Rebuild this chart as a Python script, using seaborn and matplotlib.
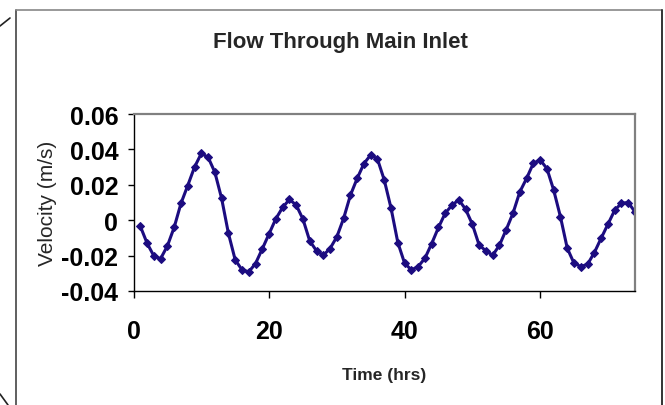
"""
Flow Through Main Inlet: velocity vs time, Excel-style line chart.
"""

import matplotlib
matplotlib.use('Agg')
import matplotlib.pyplot as plt
from matplotlib.lines import Line2D
import seaborn as sns
import pandas as pd

hours = [1, 2, 3, 4, 5, 6, 7, 8, 9, 10, 11, 12, 13, 14, 15, 16, 17, 18, 19, 20,
         21, 22, 23, 24, 25, 26, 27, 28, 29, 30, 31, 32, 33, 34, 35, 36, 37, 38,
         39, 40, 41, 42, 43, 44, 45, 46, 47, 48, 49, 50, 51, 52, 53, 54, 55, 56,
         57, 58, 59, 60, 61, 62, 63, 64, 65, 66, 67, 68, 69, 70, 71, 72, 73, 74]
velocity = [-0.0034, -0.0130, -0.0202, -0.0217, -0.0145, -0.0040, 0.0095, 0.0196,
            0.0300, 0.0377, 0.0356, 0.0271, 0.0123, -0.0074, -0.0224, -0.0280,
            -0.0292, -0.0245, -0.0162, -0.0077, 0.0008, 0.0072, 0.0117, 0.0086,
            0.0006, -0.0117, -0.0173, -0.0198, -0.0160, -0.0094, 0.0010, 0.0141,
            0.0236, 0.0320, 0.0369, 0.0345, 0.0227, 0.0068, -0.0126, -0.0243,
            -0.0281, -0.0262, -0.0215, -0.0132, -0.0041, 0.0040, 0.0085, 0.0115,
            0.0062, -0.0023, -0.0141, -0.0173, -0.0198, -0.0141, -0.0053, 0.0040,
            0.0160, 0.0236, 0.0322, 0.0341, 0.0292, 0.0170, 0.0019, -0.0158,
            -0.0243, -0.0262, -0.0249, -0.0183, -0.0102, -0.0023, 0.0056, 0.0096,
            0.0100, 0.0047]
x_ticks = [0, 20, 40, 60]
y_ticks = [-0.04, -0.02, 0, 0.02, 0.04, 0.06]
y_tick_labels = ['-0.04', '-0.02', '0', '0.02', '0.04', '0.06']

df = pd.DataFrame({'time': hours, 'velocity': velocity})

sns.set_style('white')
plt.rcParams['font.family'] = ['Liberation Sans', 'DejaVu Sans']

fig = plt.figure(figsize=(6.65, 4.06), dpi=100)
ax = fig.add_axes([0.2008, 0.2808, 0.7541, 0.4359])

navy = '#1c0c80'
sns.lineplot(data=df, x='time', y='velocity', ax=ax, color=navy, linewidth=2.2,
             marker='D', markersize=3.8, markeredgecolor=navy, markerfacecolor=navy)

ax.set_xlim(0, 74)
ax.set_ylim(-0.04, 0.06)
ax.set_xticks(x_ticks)
ax.set_xticklabels([str(t) for t in x_ticks], fontsize=18, fontweight='bold')
ax.set_yticks(y_ticks)
ax.set_yticklabels(y_tick_labels, fontsize=18, fontweight='bold')
ax.tick_params(axis='y', direction='out', length=4, width=1, pad=7, left=True, colors='black')
ax.tick_params(axis='x', direction='out', length=5, width=1, pad=15, bottom=True, colors='black')
ax.set_xlabel('')
ax.set_ylabel('')

for side in ['top', 'right']:
    ax.spines[side].set_color('#808080')
    ax.spines[side].set_linewidth(1.6)
for side in ['left', 'bottom']:
    ax.spines[side].set_color('black')
    ax.spines[side].set_linewidth(1.0)

fig.text(0.512, 0.895, 'Flow Through Main Inlet', ha='center', va='center',
         fontsize=16, fontweight='bold')
fig.text(0.577, 0.075, 'Time (hrs)', ha='center', va='center',
         fontsize=12.5, fontweight='bold')
fig.text(0.072, 0.498, 'Velocity (m/s)', ha='center', va='center', rotation=90,
         fontsize=15)

# outer chart frame and slide corner marks
fig.add_artist(Line2D([16 / 665, 16 / 665], [0, 1 - 11 / 406], color='#444444', lw=1.2))
fig.add_artist(Line2D([16 / 665, 662 / 665], [1 - 11 / 406, 1 - 11 / 406], color='#888888', lw=1.2))
fig.add_artist(Line2D([662 / 665, 662 / 665], [0, 1 - 11 / 406], color='#333333', lw=1.4))
fig.add_artist(Line2D([0, 10 / 665], [1 - 27 / 406, 1 - 19 / 406], color='#222222', lw=1.2))
fig.add_artist(Line2D([0, 8 / 665], [1 - 395 / 406, 0], color='#222222', lw=1.2))

fig.savefig('out.png', dpi=100)
plt.close(fig)
